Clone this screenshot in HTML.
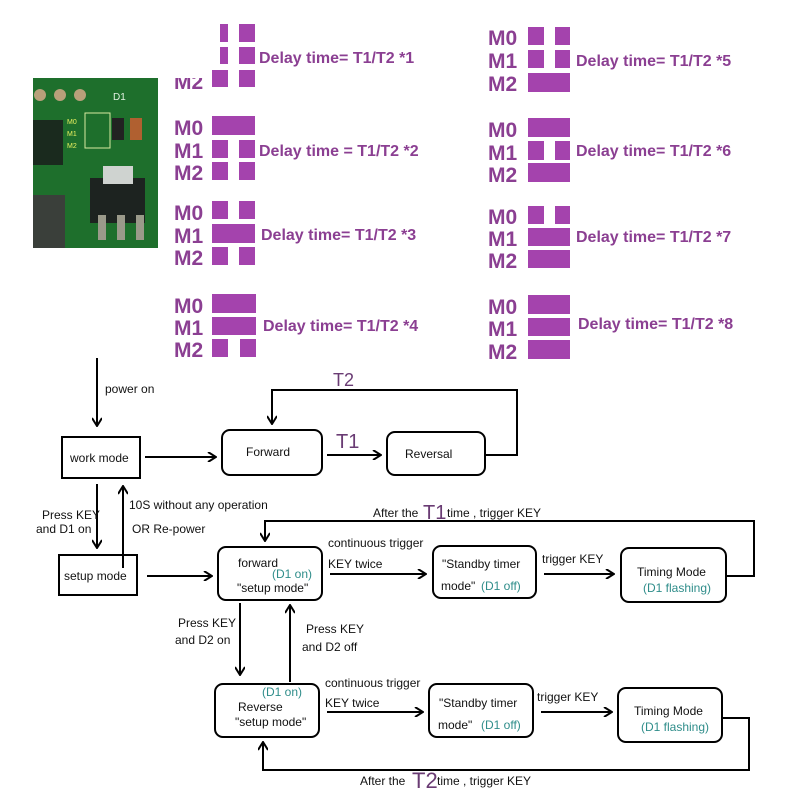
<!DOCTYPE html>
<html><head><meta charset="utf-8"><style>
html,body{margin:0;padding:0;background:#fff;}
svg{display:block;}
.m{font-family:"Liberation Sans",sans-serif;font-weight:bold;font-size:21px;fill:#8b3f92;}
.d{font-family:"Liberation Sans",sans-serif;font-weight:bold;font-size:16px;fill:#8b3f92;}
.t{font-family:"Liberation Sans Narrow","Liberation Sans",sans-serif;font-size:12px;fill:#111;}
.g{fill:#2f8d8a;}
</style></head><body>
<svg width="800" height="800" viewBox="0 0 800 800" xmlns="http://www.w3.org/2000/svg">
<defs><marker id="a" markerWidth="10" markerHeight="10" refX="9" refY="5" orient="auto" markerUnits="userSpaceOnUse"><path d="M1,0 L9,5 L1,10" fill="none" stroke="#000" stroke-width="2"/></marker></defs>
<!-- PCB -->
<rect x="33" y="78" width="125" height="170" fill="#1e6f2c"/>
<rect x="33" y="120" width="30" height="45" fill="#1a2a1e"/>
<rect x="33" y="195" width="32" height="53" fill="#3a3f3a"/>
<rect x="90" y="178" width="55" height="45" fill="#1d2320"/>
<rect x="103" y="166" width="30" height="18" fill="#cfd3d0"/>
<circle cx="40" cy="95" r="6" fill="#b8a07a"/><circle cx="60" cy="95" r="6" fill="#b8a07a"/><circle cx="80" cy="95" r="6" fill="#b8a07a"/>
<rect x="85" y="113" width="25" height="35" fill="none" stroke="#d8e8a0" stroke-width="1"/>
<text x="67" y="124" font-size="7" fill="#e8f060" font-family="Liberation Sans">M0</text>
<text x="67" y="136" font-size="7" fill="#e8f060" font-family="Liberation Sans">M1</text>
<text x="67" y="148" font-size="7" fill="#e8f060" font-family="Liberation Sans">M2</text>
<text x="113" y="100" font-size="10" fill="#e0f0e0" font-family="Liberation Sans">D1</text>
<rect x="112" y="118" width="12" height="22" fill="#222"/><rect x="130" y="118" width="12" height="22" fill="#b06030"/>
<rect x="98" y="215" width="8" height="25" fill="#9a9a8a"/><rect x="117" y="215" width="8" height="25" fill="#9a9a8a"/><rect x="136" y="215" width="8" height="25" fill="#9a9a8a"/>
<!-- Purple groups -->
<g>
<rect x="220" y="24" width="8" height="18" fill="#a443ad"/><rect x="239" y="24" width="16" height="18" fill="#a443ad"/>
<rect x="220" y="47" width="8" height="17" fill="#a443ad"/><rect x="239" y="47" width="16" height="17" fill="#a443ad"/>
<rect x="212" y="70" width="16" height="17" fill="#a443ad"/><rect x="239" y="70" width="16" height="17" fill="#a443ad"/>
<text class="m" x="174" y="89" clip-path="none">M2</text>
<rect x="170" y="60" width="42" height="18" fill="#fff"/>
<text class="d" x="259" y="63">Delay time= T1/T2 *1</text>

<text class="m" x="174" y="135">M0</text><text class="m" x="174" y="158">M1</text><text class="m" x="174" y="180">M2</text>
<rect x="212" y="116" width="43" height="19" fill="#a443ad"/>
<rect x="212" y="140" width="16" height="18" fill="#a443ad"/><rect x="239" y="140" width="16" height="18" fill="#a443ad"/>
<rect x="212" y="162" width="16" height="18" fill="#a443ad"/><rect x="239" y="162" width="16" height="18" fill="#a443ad"/>
<text class="d" x="259" y="156">Delay time = T1/T2 *2</text>

<text class="m" x="174" y="220">M0</text><text class="m" x="174" y="243">M1</text><text class="m" x="174" y="265">M2</text>
<rect x="212" y="201" width="16" height="18" fill="#a443ad"/><rect x="239" y="201" width="16" height="18" fill="#a443ad"/>
<rect x="212" y="224" width="43" height="19" fill="#a443ad"/>
<rect x="212" y="247" width="16" height="18" fill="#a443ad"/><rect x="239" y="247" width="16" height="18" fill="#a443ad"/>
<text class="d" x="261" y="240">Delay time= T1/T2 *3</text>

<text class="m" x="174" y="313">M0</text><text class="m" x="174" y="335">M1</text><text class="m" x="174" y="357">M2</text>
<rect x="212" y="294" width="44" height="19" fill="#a443ad"/>
<rect x="212" y="317" width="44" height="18" fill="#a443ad"/>
<rect x="212" y="339" width="16" height="18" fill="#a443ad"/><rect x="240" y="339" width="16" height="18" fill="#a443ad"/>
<text class="d" x="263" y="331">Delay time= T1/T2 *4</text>

<text class="m" x="488" y="45">M0</text><text class="m" x="488" y="68">M1</text><text class="m" x="488" y="91">M2</text>
<rect x="528" y="27" width="16" height="18" fill="#a443ad"/><rect x="555" y="27" width="15" height="18" fill="#a443ad"/>
<rect x="528" y="50" width="16" height="18" fill="#a443ad"/><rect x="555" y="50" width="15" height="18" fill="#a443ad"/>
<rect x="528" y="73" width="42" height="19" fill="#a443ad"/>
<text class="d" x="576" y="66">Delay time= T1/T2 *5</text>

<text class="m" x="488" y="137">M0</text><text class="m" x="488" y="160">M1</text><text class="m" x="488" y="182">M2</text>
<rect x="528" y="118" width="42" height="19" fill="#a443ad"/>
<rect x="528" y="141" width="16" height="19" fill="#a443ad"/><rect x="555" y="141" width="15" height="19" fill="#a443ad"/>
<rect x="528" y="163" width="42" height="19" fill="#a443ad"/>
<text class="d" x="576" y="156">Delay time= T1/T2 *6</text>

<text class="m" x="488" y="224">M0</text><text class="m" x="488" y="246">M1</text><text class="m" x="488" y="268">M2</text>
<rect x="528" y="206" width="16" height="18" fill="#a443ad"/><rect x="555" y="206" width="15" height="18" fill="#a443ad"/>
<rect x="528" y="228" width="42" height="18" fill="#a443ad"/>
<rect x="528" y="250" width="42" height="18" fill="#a443ad"/>
<text class="d" x="576" y="242">Delay time= T1/T2 *7</text>

<text class="m" x="488" y="314">M0</text><text class="m" x="488" y="336">M1</text><text class="m" x="488" y="359">M2</text>
<rect x="528" y="295" width="42" height="19" fill="#a443ad"/>
<rect x="528" y="318" width="42" height="18" fill="#a443ad"/>
<rect x="528" y="340" width="42" height="19" fill="#a443ad"/>
<text class="d" x="578" y="329">Delay time= T1/T2 *8</text>
</g>
<!-- Flowchart -->
<g fill="none" stroke="#000" stroke-width="2">
<line x1="97" y1="358" x2="97" y2="426" marker-end="url(#a)"/>
<rect x="62" y="437" width="78" height="41"/>
<line x1="145" y1="457" x2="216" y2="457" marker-end="url(#a)"/>
<rect x="222" y="430" width="100" height="45" rx="8"/>
<line x1="327" y1="455" x2="381" y2="455" marker-end="url(#a)"/>
<rect x="387" y="432" width="98" height="43" rx="8"/>
<polyline points="485,455 517,455 517,390 272,390 272,424" marker-end="url(#a)"/>
<line x1="97" y1="484" x2="97" y2="548" marker-end="url(#a)"/>
<line x1="123" y1="568" x2="123" y2="486" marker-end="url(#a)"/>
<rect x="59" y="555" width="78" height="40"/>
<line x1="147" y1="576" x2="212" y2="576" marker-end="url(#a)"/>
<rect x="218" y="547" width="104" height="53" rx="8"/>
<line x1="330" y1="574" x2="426" y2="574" marker-end="url(#a)"/>
<rect x="433" y="546" width="103" height="52" rx="8"/>
<line x1="544" y1="574" x2="614" y2="574" marker-end="url(#a)"/>
<rect x="621" y="548" width="105" height="54" rx="8"/>
<polyline points="726,576 754,576 754,521 265,521 265,541" marker-end="url(#a)"/>
<line x1="240" y1="603" x2="240" y2="675" marker-end="url(#a)"/>
<line x1="290" y1="682" x2="290" y2="605" marker-end="url(#a)"/>
<rect x="215" y="684" width="104" height="53" rx="8"/>
<line x1="327" y1="712" x2="423" y2="712" marker-end="url(#a)"/>
<rect x="429" y="684" width="104" height="53" rx="8"/>
<line x1="541" y1="712" x2="612" y2="712" marker-end="url(#a)"/>
<rect x="618" y="688" width="104" height="54" rx="8"/>
<polyline points="722,718 749,718 749,770 263,770 263,742" marker-end="url(#a)"/>
</g>
<g class="t">
<text x="105" y="393">power on</text>
<text x="70" y="462">work mode</text>
<text x="246" y="456">Forward</text>
<text x="405" y="458">Reversal</text>
<text x="336" y="448" font-size="20" fill="#6a3c74">T1</text>
<text x="333" y="386" font-size="18" fill="#6a3c74">T2</text>
<text x="42" y="519">Press KEY</text>
<text x="36" y="533">and D1 on</text>
<text x="129" y="509">10S without any operation</text>
<text x="132" y="533">OR Re-power</text>
<text x="64" y="580">setup mode</text>
<text x="238" y="567">forward</text>
<text x="272" y="578" class="g">(D1 on)</text>
<text x="237" y="592">"setup mode"</text>
<text x="328" y="547">continuous trigger</text>
<text x="328" y="568">KEY twice</text>
<text x="442" y="568">"Standby timer</text>
<text x="441" y="590">mode"</text><text x="481" y="590" class="g">(D1 off)</text>
<text x="542" y="563">trigger KEY</text>
<text x="637" y="576">Timing Mode</text>
<text x="643" y="592" class="g">(D1 flashing)</text>
<text x="373" y="517">After the</text><text x="423" y="519" font-size="20" fill="#6a3c74">T1</text><text x="447" y="517">time , trigger KEY</text>
<text x="178" y="627">Press KEY</text>
<text x="175" y="644">and D2 on</text>
<text x="306" y="633">Press KEY</text>
<text x="302" y="651">and D2 off</text>
<text x="262" y="696" class="g">(D1 on)</text>
<text x="238" y="711">Reverse</text>
<text x="235" y="726">"setup mode"</text>
<text x="325" y="687">continuous trigger</text>
<text x="325" y="707">KEY twice</text>
<text x="439" y="707">"Standby timer</text>
<text x="438" y="729">mode"</text><text x="481" y="729" class="g">(D1 off)</text>
<text x="537" y="701">trigger KEY</text>
<text x="634" y="715">Timing Mode</text>
<text x="641" y="731" class="g">(D1 flashing)</text>
<text x="360" y="785">After the</text><text x="412" y="788" font-size="22" fill="#6a3c74">T2</text><text x="437" y="785">time , trigger KEY</text>
</g>
</svg>
</body></html>
